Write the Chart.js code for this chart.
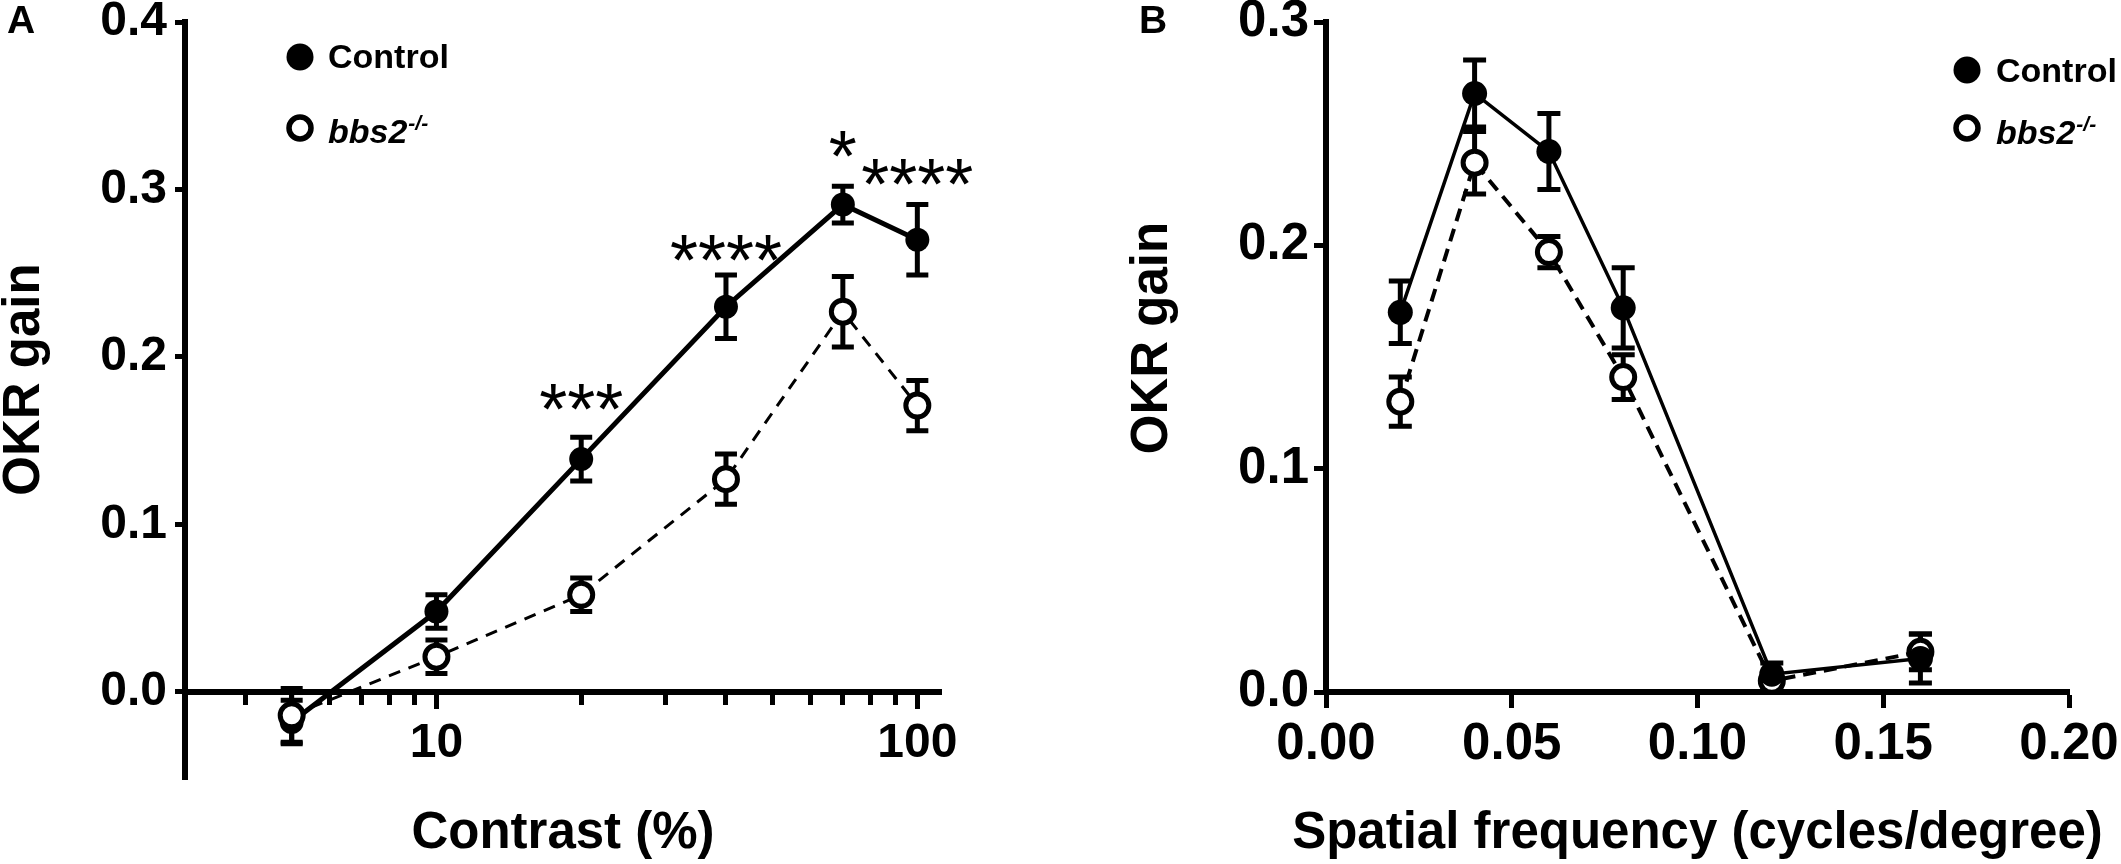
<!DOCTYPE html>
<html><head><meta charset="utf-8">
<script src="https://cdn.jsdelivr.net/npm/chart.js@4.4.1/dist/chart.umd.min.js"></script>
<style>
html,body{margin:0;padding:0;background:#fff;}
#wrap{position:relative;width:2121px;height:864px;overflow:hidden;background:#fff;}
#ca{position:absolute;left:0;top:0;}
#cb{position:absolute;left:1060px;top:0;}
</style></head><body>
<div id="wrap"><canvas id="ca" width="1060" height="864"></canvas><canvas id="cb" width="1061" height="864"></canvas></div>
<script>
// ---------- Panel A : contrast sensitivity ----------
const contrastLevels = [5, 10, 20, 40, 70, 100];
const controlContrastMean = [-0.018, 0.048, 0.139, 0.230, 0.291, 0.270];
const controlContrastSem  = [0.013, 0.010, 0.013, 0.019, 0.011, 0.021];
const bbs2ContrastMean    = [-0.014, 0.021, 0.058, 0.127, 0.227, 0.171];
const bbs2ContrastSem     = [0.016, 0.010, 0.010, 0.015, 0.021, 0.015];
const contrastTicks      = [4, 5, 6, 7, 8, 9, 10, 20, 30, 40, 50, 60, 70, 80, 90, 100];
const contrastMajorTicks = [10, 100];
const gainTicksA = [0, 0.1, 0.2, 0.3, 0.4];
const sigX     = [20, 40, 70, 100];
const sigY     = [0.179, 0.268, 0.330, 0.313];
const sigLabel = ['***', '****', '*', '****'];

// ---------- Panel B : spatial frequency ----------
const spatialFreqs = [0.02, 0.04, 0.06, 0.08, 0.12, 0.16];
const controlSFMean = [0.170, 0.268, 0.242, 0.172, 0.008, 0.015];
const controlSFSem  = [0.014, 0.015, 0.017, 0.018, 0.005, 0.011];
const bbs2SFMean    = [0.130, 0.237, 0.197, 0.141, 0.005, 0.018];
const bbs2SFSem     = [0.011, 0.014, 0.007, 0.010, 0.003, 0.008];
const sfTicks    = [0, 0.05, 0.10, 0.15, 0.20];
const gainTicksB = [0, 0.1, 0.2, 0.3];

const seriesNames = ['Control', 'bbs2'];
const yTitle = 'OKR gain';
const xTitleA = 'Contrast (%)';
const xTitleB = 'Spatial frequency (cycles/degree)';

const F = "'Liberation Sans', Arial, Helvetica, sans-serif";
Chart.defaults.font.family = F;
Chart.defaults.color = '#000';

function fitY(w) { return s => { s.width = w; s.paddingTop = 0; s.paddingBottom = 0; }; }
function fitX(h) { return s => { s.height = h; s.paddingLeft = 0; s.paddingRight = 0; }; }
function pts(xs, ys) { return xs.map((x, i) => ({x: x, y: ys[i]})); }

const errorBarPlugin = {
  id: 'errorBars',
  beforeDatasetsDraw(chart) {
    const ctx = chart.ctx, xs = chart.scales.x, ys = chart.scales.y;
    chart.data.datasets.forEach(ds => {
      if (!ds.errors) return;
      ctx.save();
      ctx.strokeStyle = '#000'; ctx.lineWidth = ds.errorBarWidth; ctx.lineCap = 'butt';
      ds.data.forEach((p, j) => {
        const e = ds.errors[j];
        const px = xs.getPixelForValue(p.x);
        const t = ys.getPixelForValue(p.y + e), b = ys.getPixelForValue(p.y - e);
        const hw = ds.errorCapWidth / 2;
        ctx.beginPath();
        ctx.moveTo(px, t); ctx.lineTo(px, b);
        ctx.moveTo(px - hw, t); ctx.lineTo(px + hw, t);
        ctx.moveTo(px - hw, b); ctx.lineTo(px + hw, b);
        ctx.stroke();
      });
      ctx.restore();
    });
  }
};

const sigPlugin = {
  id: 'sig',
  afterDatasetsDraw(chart) {
    const ctx = chart.ctx, xs = chart.scales.x, ys = chart.scales.y;
    ctx.save();
    ctx.fillStyle = '#000';
    ctx.font = '72px ' + F;
    ctx.textAlign = 'center'; ctx.textBaseline = 'alphabetic';
    sigLabel.forEach((t, i) => {
      ctx.fillText(t, xs.getPixelForValue(sigX[i]), ys.getPixelForValue(sigY[i]) + 0.58 * 72);
    });
    ctx.restore();
  }
};

function legendPlugin(cx, cy1, cy2, tx, b1, b2) {
  return {
    id: 'okrLegend',
    afterDraw(chart) {
      const ctx = chart.ctx;
      ctx.save();
      ctx.fillStyle = '#000'; ctx.strokeStyle = '#000';
      ctx.beginPath(); ctx.arc(cx, cy1, 13.5, 0, Math.PI * 2); ctx.fill();
      ctx.beginPath(); ctx.arc(cx, cy2, 11, 0, Math.PI * 2);
      ctx.fillStyle = '#fff'; ctx.fill(); ctx.lineWidth = 5.5; ctx.stroke();
      ctx.fillStyle = '#000';
      ctx.textAlign = 'left'; ctx.textBaseline = 'alphabetic';
      ctx.font = 'bold 34px ' + F;
      ctx.fillText(seriesNames[0], tx, b1);
      ctx.font = 'italic bold 34px ' + F;
      ctx.fillText(seriesNames[1], tx, b2);
      const w = ctx.measureText(seriesNames[1]).width;
      ctx.font = 'italic bold 21px ' + F;
      ctx.fillText('-/-', tx + w + 1, b2 - 13);
      ctx.restore();
    }
  };
}

// panel letter + axis titles (placed around the chart area)
function panelText(letter, letterX, xTitle, yTitleX, yTitleOffset) {
  return {
    id: 'panelText',
    afterDraw(chart) {
      const ctx = chart.ctx, a = chart.chartArea;
      ctx.save();
      ctx.fillStyle = '#000';
      ctx.font = 'bold 39px ' + F;
      ctx.textAlign = 'left'; ctx.textBaseline = 'alphabetic';
      ctx.fillText(letter, letterX, 33);
      ctx.font = 'bold 51px ' + F;
      ctx.textAlign = 'center';
      ctx.fillText(xTitle, (a.left + a.right) / 2, 848);
      const yc = chart.scales.y.getPixelForValue(yTitleOffset);
      ctx.translate(yTitleX, yc);
      ctx.rotate(-Math.PI / 2);
      ctx.textBaseline = 'middle';
      ctx.fillText(yTitle, 0, 0);
      ctx.restore();
    }
  };
}

const tickFontA = {size: 48, weight: 'bold', family: F};
const tickFontB = {size: 51, weight: 'bold', family: F};

// ---------- Chart A ----------
new Chart(document.getElementById('ca'), {
  type: 'line',
  data: {
    datasets: [
      {
        label: 'bbs2-/-', data: pts(contrastLevels, bbs2ContrastMean), errors: bbs2ContrastSem,
        borderColor: '#000', borderWidth: 3, borderDash: [12, 9], fill: false, tension: 0,
        pointRadius: 11.5, pointBorderWidth: 5, pointBackgroundColor: '#fff', pointBorderColor: '#000',
        order: 0, clip: false, errorBarWidth: 5, errorCapWidth: 22
      },
      {
        label: 'Control', data: pts(contrastLevels, controlContrastMean), errors: controlContrastSem,
        borderColor: '#000', borderWidth: 5, fill: false, tension: 0,
        pointRadius: 12, pointBorderWidth: 0, pointBackgroundColor: '#000', pointBorderColor: '#000',
        order: 1, clip: false, errorBarWidth: 5, errorCapWidth: 22
      }
    ]
  },
  options: {
    responsive: false, animation: false, devicePixelRatio: 1,
    layout: {padding: {left: 0, top: 22, right: 119, bottom: 85}},
    plugins: {legend: {display: false}, tooltip: {enabled: false}},
    scales: {
      x: {
        type: 'logarithmic', min: 3, max: 112, position: {y: 0},
        afterBuildTicks: s => { s.ticks = contrastTicks.map(v => ({value: v})); },
        afterFit: fitX(0),
        border: {display: true, width: 6, color: '#000'},
        grid: {drawOnChartArea: false, drawTicks: true, tickLength: 10, tickWidth: 5, tickColor: '#000'},
        ticks: {autoSkip: false, maxRotation: 0, minRotation: 0, padding: 13, font: tickFontA, color: '#000',
          callback: v => contrastMajorTicks.includes(v) ? String(v) : ''}
      },
      x2: {
        type: 'logarithmic', min: 3, max: 112, position: {y: 0},
        afterBuildTicks: s => { s.ticks = contrastMajorTicks.map(v => ({value: v})); },
        afterFit: fitX(0),
        border: {display: false},
        grid: {drawOnChartArea: false, drawTicks: true, tickLength: 17, tickWidth: 5, tickColor: '#000'},
        ticks: {display: false}
      },
      y: {
        type: 'linear', min: -0.052, max: 0.4, position: 'left',
        afterBuildTicks: s => { s.ticks = gainTicksA.map(v => ({value: v})); },
        afterFit: fitY(185),
        border: {display: true, width: 6, color: '#000'},
        grid: {drawOnChartArea: false, drawTicks: true, tickLength: 10, tickWidth: 5, tickColor: '#000'},
        ticks: {padding: 8, font: tickFontA, color: '#000', callback: v => Number(v).toFixed(1)}
      }
    }
  },
  plugins: [errorBarPlugin, sigPlugin, legendPlugin(300, 57, 128, 328, 68, 143),
            panelText('A', 7, xTitleA, 24.5, 0.1865)]
});

// ---------- Chart B ----------
new Chart(document.getElementById('cb'), {
  type: 'line',
  data: {
    datasets: [
      {
        label: 'Control', data: pts(spatialFreqs, controlSFMean), errors: controlSFSem,
        borderColor: '#000', borderWidth: 3.5, fill: false, tension: 0,
        pointRadius: 12.5, pointBorderWidth: 0, pointBackgroundColor: '#000', pointBorderColor: '#000',
        order: 0, clip: false, errorBarWidth: 5, errorCapWidth: 23
      },
      {
        label: 'bbs2-/-', data: pts(spatialFreqs, bbs2SFMean), errors: bbs2SFSem,
        borderColor: '#000', borderWidth: 4, borderDash: [13, 8], fill: false, tension: 0,
        pointRadius: 11.5, pointBorderWidth: 5, pointBackgroundColor: '#fff', pointBorderColor: '#000',
        order: 1, clip: false, errorBarWidth: 5, errorCapWidth: 23
      }
    ]
  },
  options: {
    responsive: false, animation: false, devicePixelRatio: 1,
    layout: {padding: {left: 0, top: 22, right: 52, bottom: 0}},
    plugins: {legend: {display: false}, tooltip: {enabled: false}},
    scales: {
      x: {
        type: 'linear', min: 0, max: 0.2, position: 'bottom',
        afterBuildTicks: s => { s.ticks = sfTicks.map(v => ({value: v})); },
        afterFit: fitX(172),
        border: {display: true, width: 6, color: '#000'},
        grid: {drawOnChartArea: false, drawTicks: true, tickLength: 16, tickWidth: 5, tickColor: '#000'},
        ticks: {autoSkip: false, maxRotation: 0, minRotation: 0, padding: 6, font: tickFontB, color: '#000',
          callback: v => Number(v).toFixed(2)}
      },
      y: {
        type: 'linear', min: 0, max: 0.3, position: 'left',
        afterBuildTicks: s => { s.ticks = gainTicksB.map(v => ({value: v})); },
        afterFit: fitY(266),
        border: {display: true, width: 6, color: '#000'},
        grid: {drawOnChartArea: false, drawTicks: true, tickLength: 12, tickWidth: 5, tickColor: '#000'},
        ticks: {padding: 5, font: tickFontB, color: '#000', callback: v => Number(v).toFixed(1)}
      }
    }
  },
  plugins: [errorBarPlugin, legendPlugin(907, 70, 128, 936, 82, 144),
            panelText('B', 79, xTitleB, 93, 0.1585)]
});
</script>
</body></html>
